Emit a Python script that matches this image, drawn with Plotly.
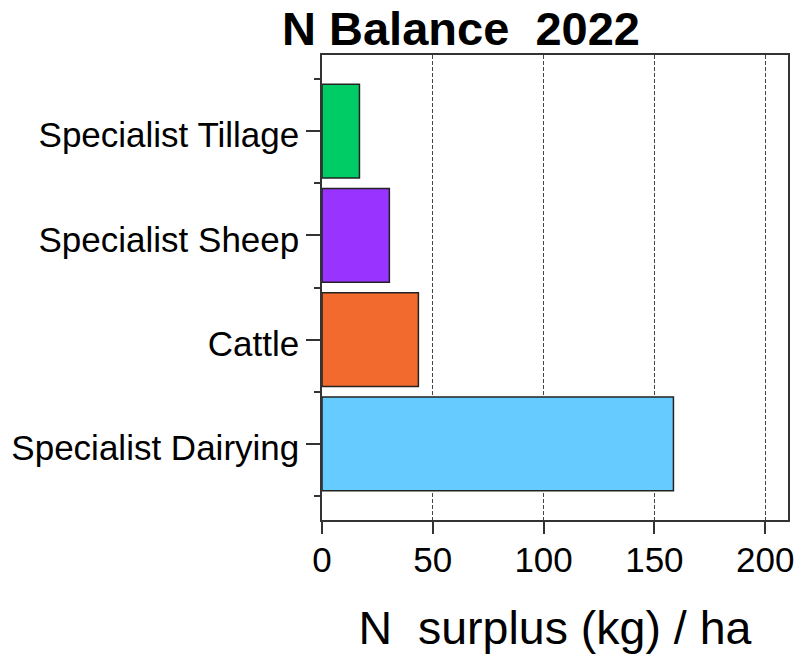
import plotly.graph_objects as go

# N surplus per hectare by farm system, 2022 (listed bottom to top)
farm_systems = ["Specialist Dairying", "Cattle", "Specialist Sheep", "Specialist Tillage"]
n_surplus = [158.6, 43.5, 30.4, 16.9]
bar_colors = ["#66CCFF", "#F26A2E", "#9933FF", "#00CC66"]

x_ticks = [0, 50, 100, 150, 200]
positions = list(range(len(farm_systems)))
boundaries = [p - 0.5 for p in positions] + [positions[-1] + 0.5]

FONT = "Liberation Sans, Arial, sans-serif"
INK = "#333333"

fig = go.Figure(
    go.Bar(
        x=n_surplus,
        y=positions,
        orientation="h",
        width=0.9,
        marker=dict(color=bar_colors, line=dict(color="#222222", width=1.5)),
        hovertemplate="%{text}: %{x}<extra></extra>",
        text=farm_systems,
        textposition="none",
    )
)

fig.update_layout(
    width=797,
    height=658,
    margin=dict(l=322, r=9, t=55, b=138, autoexpand=False),
    paper_bgcolor="white",
    plot_bgcolor="white",
    showlegend=False,
    font=dict(family=FONT, color="black"),
    title=dict(
        text="<b>N Balance\u00a0 2022</b>",
        font=dict(size=47, family=FONT, color="black"),
        x=461 / 797,
        xanchor="center",
        xref="container",
        y=1 - 29 / 658,
        yanchor="middle",
        yref="container",
    ),
)

fig.update_xaxes(
    range=[0, 210.3],
    automargin=False,
    tickvals=x_ticks,
    ticktext=[str(v) for v in x_ticks],
    tickfont=dict(size=35, family=FONT, color="black"),
    ticks="outside",
    ticklen=12,
    tickwidth=2,
    tickcolor=INK,
    ticklabelstandoff=-4,
    showline=True,
    linecolor=INK,
    linewidth=1.5,
    mirror=True,
    showgrid=True,
    gridcolor="#444444",
    gridwidth=1,
    griddash="4px,2px",
    zeroline=False,
    title=dict(
        text="N\u00a0 surplus (kg) / ha",
        font=dict(size=46.5, family=FONT, color="black"),
        standoff=34,
    ),
)

fig.update_yaxes(
    range=[-0.73, 3.73],
    automargin=False,
    tickvals=positions,
    ticktext=farm_systems,
    tickfont=dict(size=35, family=FONT, color="black"),
    ticks="outside",
    ticklen=14,
    tickwidth=2,
    tickcolor=INK,
    ticklabelshift=4,
    minor=dict(tickvals=boundaries, ticks="outside", ticklen=6, tickwidth=2, tickcolor=INK, showgrid=False),
    showline=True,
    linecolor=INK,
    linewidth=1.5,
    mirror=True,
    showgrid=False,
    zeroline=False,
)

fig.write_html("out.html")
